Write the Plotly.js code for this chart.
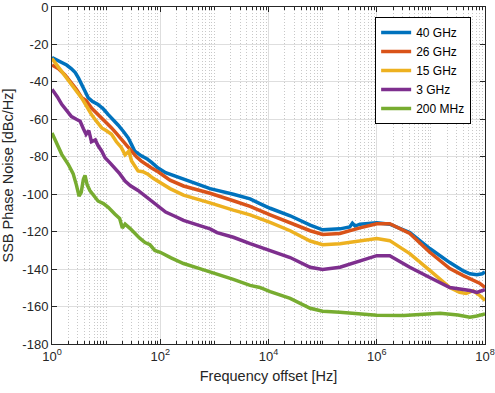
<!DOCTYPE html>
<html>
<head>
<meta charset="utf-8">
<script src="https://cdn.plot.ly/plotly-3.0.1.min.js"></script>
<style>html,body{margin:0;padding:0;background:#fff;}#chart{width:495px;height:393px;}</style>
</head>
<body>
<div id="chart"></div>
<script>
// Series names and colours
const seriesNames = ['40 GHz', '26 GHz', '15 GHz', '3 GHz', '200 MHz'];
const seriesColors = ['#0072BD', '#D95319', '#EDB120', '#7E2F8E', '#77AC30'];

// Frequency offsets given as decade exponents (f = 10^exp Hz), phase noise in dBc/Hz
const exp40 = [0,0.1,0.18,0.27,0.36,0.43,0.49,0.55,0.61,0.67,0.75,0.85,0.95,1.04,1.13,1.22,1.32,1.41,1.47,1.53,1.65,1.75,1.84,1.96,2.1,2.24,2.43,2.74,2.92,3.35,3.66,3.84,4.03,4.4,4.77,5.0,5.32,5.5,5.55,5.6,5.69,6.0,6.24,6.61,6.98,7.35,7.6,7.72,7.85,7.95,8.0];
const pn40  = [-27,-28.5,-30,-31,-33,-35,-38,-42,-45,-48.5,-50.5,-52,-54.5,-57.5,-60,-63,-66.5,-70,-73.5,-77,-79.5,-81,-83,-86,-88.5,-90,-92,-95.5,-97,-100,-102.5,-105,-107.5,-111.5,-116.5,-119,-118.5,-117.5,-115.5,-117,-116,-115.2,-116,-120.5,-129,-136.5,-141,-142.5,-143,-142.5,-141.5];

const exp26 = [0,0.12,0.24,0.36,0.45,0.55,0.63,0.73,0.82,0.92,1.0,1.1,1.19,1.28,1.38,1.47,1.56,1.65,1.75,1.84,1.96,2.18,2.43,2.7,2.92,3.35,3.66,4.03,4.4,4.77,5.0,5.32,5.69,6.0,6.24,6.61,6.98,7.35,7.6,7.72,7.9,8.0];
const pn26  = [-31,-33,-36.3,-40.5,-44,-48.5,-50,-54,-56.5,-59.3,-62,-64.6,-67.5,-70.7,-74,-77,-80,-82.3,-84.5,-86,-88,-92.5,-95.6,-97.8,-99.5,-103.5,-106.5,-111,-115.2,-119.5,-121.5,-121,-118,-115.8,-115.8,-121,-131,-139.7,-143.5,-145,-147.5,-149.8];

const exp15 = [0,0.09,0.18,0.27,0.36,0.45,0.55,0.64,0.73,0.82,0.92,1.0,1.1,1.19,1.28,1.35,1.42,1.47,1.53,1.59,1.68,1.78,1.87,1.96,2.18,2.43,2.7,2.92,3.35,3.66,4.03,4.4,4.77,5.0,5.32,5.69,6.0,6.24,6.61,6.98,7.35,7.53,7.65,7.78,7.9,8.0];
const pn15  = [-27.5,-31,-34.5,-38,-41.5,-45,-48.7,-53,-57.5,-61,-64.6,-66,-68,-72,-75,-79,-77,-82.3,-85,-87.6,-88,-89.5,-91.5,-93,-97,-100.5,-103,-104.6,-108.5,-111,-115,-119.5,-125,-127,-126.4,-124.8,-123.7,-124.8,-131.7,-140.7,-149.8,-152.4,-153,-151.5,-154,-156.7];

const exp3 = [0,0.1,0.18,0.3,0.36,0.45,0.52,0.58,0.63,0.68,0.73,0.8,0.85,0.92,0.98,1.08,1.16,1.25,1.35,1.45,1.59,1.7,1.78,1.96,2.1,2.25,2.43,2.7,2.92,3.05,3.35,3.66,4.03,4.4,4.77,5.0,5.32,5.69,6.0,6.24,6.61,6.98,7.35,7.72,7.85,8.0];
const pn3  = [-44,-48,-52,-56,-58.5,-60,-61,-65,-68,-66,-72,-71,-74,-77,-80.5,-83.5,-86,-89,-93,-95.5,-98,-100.5,-102.5,-106.5,-109.5,-111.5,-114,-116.5,-118.5,-120.5,-123,-126.4,-130,-133.8,-139,-140.2,-139,-135.4,-132.8,-132.8,-139,-144.5,-149.8,-151.4,-152.5,-151];

const exp02 = [0,0.09,0.18,0.3,0.39,0.45,0.5,0.54,0.58,0.61,0.65,0.7,0.78,0.85,0.95,1.04,1.16,1.25,1.3,1.35,1.45,1.53,1.62,1.72,1.81,1.9,2.0,2.2,2.43,2.7,2.92,3.05,3.35,3.66,3.84,4.03,4.4,4.77,5.0,5.32,5.69,6.0,6.5,7.0,7.17,7.5,7.72,7.85,8.0];
const pn02  = [-67.3,-73,-78.7,-84,-89,-95,-101,-99,-92,-90,-95,-98,-101,-103.6,-105,-107,-110.6,-113,-118,-116,-118.5,-121,-123.5,-125.8,-127,-130,-131,-134,-137,-139.5,-141.5,-142.3,-145.5,-148.7,-149.8,-152,-155.6,-160.9,-162.5,-163,-164,-164.6,-164.8,-164,-163.6,-164.5,-165.7,-165,-164];

// Axis tick labels
const xTickVals = [1, 1e2, 1e4, 1e6, 1e8];
const xTickLabels = ['10<sup>0</sup>', '10<sup>2</sup>', '10<sup>4</sup>', '10<sup>6</sup>', '10<sup>8</sup>'];
const yTickVals = [-180, -160, -140, -120, -100, -80, -60, -40, -20, 0];
const yTickLabels = ['-180', '-160', '-140', '-120', '-100', '-80', '-60', '-40', '-20', '0'];

const expSets = [exp40, exp26, exp15, exp3, exp02];
const pnSets = [pn40, pn26, pn15, pn3, pn02];

// minor grid positions (2..9 per decade, plus odd decades)
const minorVals = [];
for (let d = 0; d < 8; d++) {
  const base = Math.pow(10, d);
  if (d % 2 === 1) minorVals.push(base);
  for (let m = 2; m <= 9; m++) minorVals.push(m * base);
}

const font = 'Liberation Sans, Arial, Helvetica, sans-serif';
const axisColor = '#262626';

const traces = seriesNames.map((name, i) => ({
  type: 'scatter',
  mode: 'lines',
  name: name,
  x: expSets[i].map(e => Math.pow(10, e)),
  y: pnSets[i],
  line: {color: seriesColors[i], width: 3.5},
  hoverinfo: 'skip'
}));

const layout = {
  width: 495,
  height: 393,
  margin: {l: 52, r: 10, t: 7, b: 49},
  paper_bgcolor: '#ffffff',
  plot_bgcolor: '#ffffff',
  font: {family: font, color: axisColor, size: 13},
  showlegend: true,
  legend: {
    x: 0.968, y: 0.97, xanchor: 'right', yanchor: 'top',
    bgcolor: '#ffffff', bordercolor: '#000000', borderwidth: 1,
    font: {family: font, size: 12, color: '#000000'},
    tracegroupgap: 0
  },
  xaxis: {
    type: 'log',
    range: [0, 8],
    tickmode: 'array',
    tickvals: xTickVals,
    ticktext: xTickLabels,
    ticks: 'inside', ticklen: 5, tickcolor: axisColor,
    showline: true, linecolor: axisColor, linewidth: 1, mirror: 'ticks',
    showgrid: true, gridcolor: '#dedede', gridwidth: 1,
    zeroline: false,
    ticklabeloverflow: 'allow',
    tickfont: {family: font, size: 13, color: axisColor},
    minor: {
      tickmode: 'array', tickvals: minorVals,
      ticks: 'inside', ticklen: 3, tickcolor: axisColor,
      showgrid: true, gridcolor: '#c8c8c8', gridwidth: 1, griddash: '1px,2px'
    },
    title: {text: 'Frequency offset [Hz]', font: {family: font, size: 14.5, color: axisColor}, standoff: 8}
  },
  yaxis: {
    range: [-180, 0],
    tickmode: 'array',
    tickvals: yTickVals,
    ticktext: yTickLabels,
    ticks: 'inside', ticklen: 5, tickcolor: axisColor,
    showline: true, linecolor: axisColor, linewidth: 1, mirror: 'ticks',
    showgrid: true, gridcolor: '#dedede', gridwidth: 1,
    zeroline: false,
    ticklabeloverflow: 'allow',
    tickfont: {family: font, size: 13, color: axisColor},
    title: {text: 'SSB Phase Noise [dBc/Hz]', font: {family: font, size: 14.5, color: axisColor}, standoff: 6}
  }
};

Plotly.newPlot('chart', traces, layout, {staticPlot: true, displayModeBar: false});
</script>
</body>
</html>
